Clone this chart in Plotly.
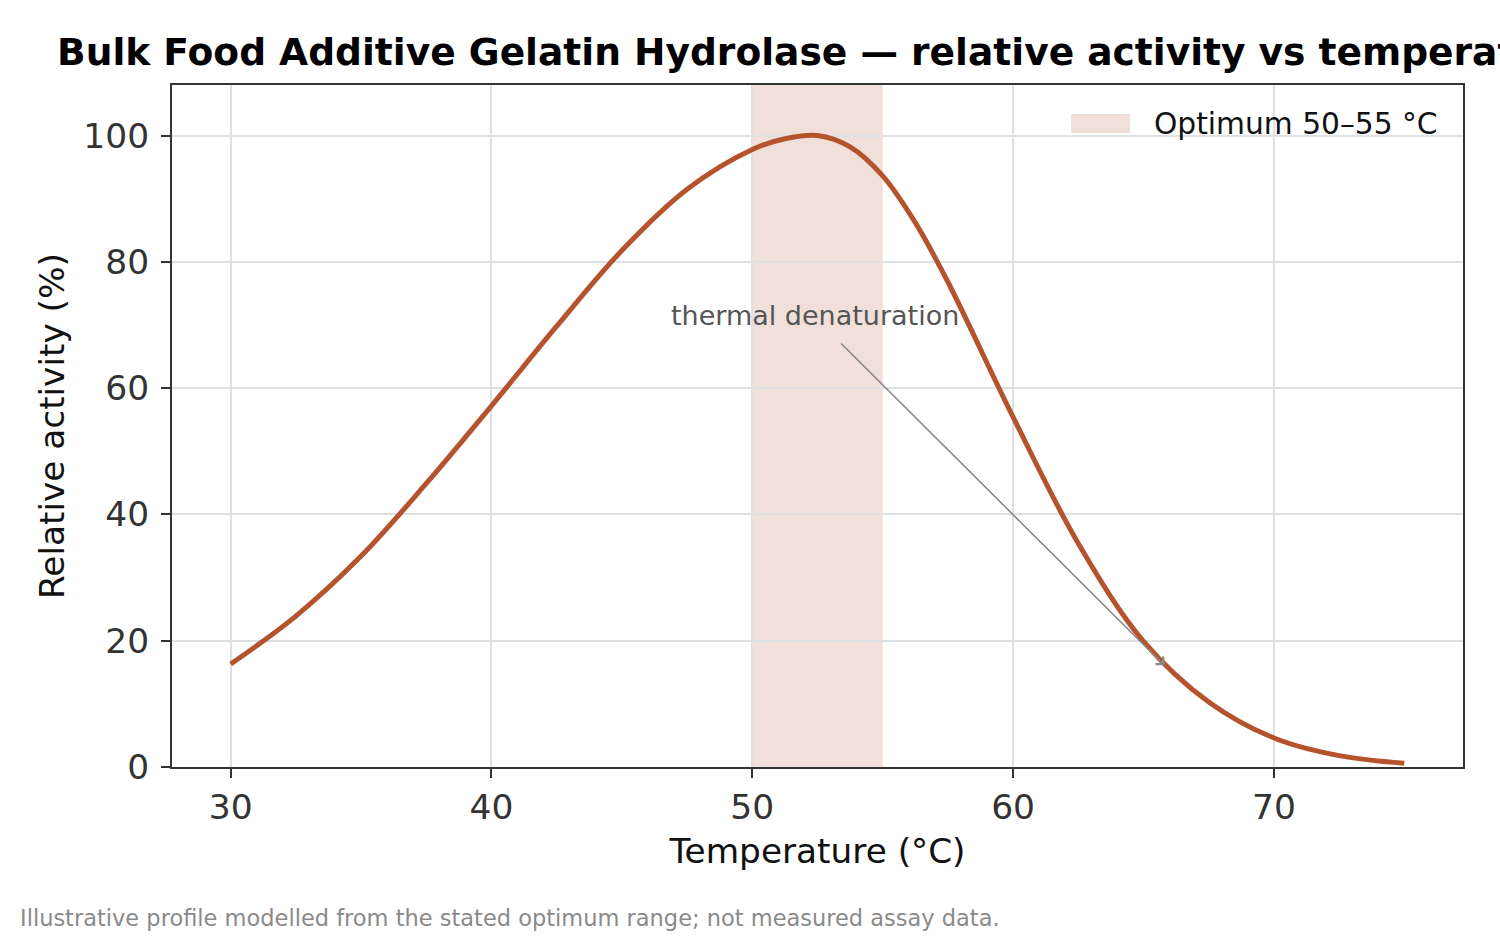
import plotly.graph_objects as go

# ---- data ----
temperature_c = [30, 32.5, 35, 37.5, 40, 42.5, 45, 47.5, 50, 51.25, 52.5, 53.75,
                 55, 56.25, 57.5, 60, 62.5, 65, 67.5, 70, 72.5, 75]
relative_activity = [16.3, 23.9, 33.4, 44.9, 57.2, 69.8, 81.8, 91.5, 97.8, 99.5, 100.0, 98.2,
                     93.6, 86.2, 76.8, 55.4, 35.4, 19.9, 10.3, 4.6, 1.8, 0.6]
optimum_range = [50, 55]
optimum_label = "Optimum 50–55 °C"
x_ticks = [30, 40, 50, 60, 70]
y_ticks = [0, 20, 40, 60, 80, 100]
annot_text = "thermal denaturation"
annot_text_pos = [52.42, 71.5]
annot_tail = [53.35, 67.3]
annot_head = [65.8, 16.1]

title = "Bulk Food Additive Gelatin Hydrolase — relative activity vs temperature"
footnote = "Illustrative profile modelled from the stated optimum range; not measured assay data."

LINE = "#B4532C"
BAND = "rgba(180,83,44,0.18)"
FONT = "DejaVu Sans"

fig = go.Figure()
fig.add_trace(go.Scatter(
    x=temperature_c, y=relative_activity, mode="lines",
    line=dict(color=LINE, width=5, shape="spline", smoothing=1.0),
    showlegend=False, hoverinfo="x+y"))

# optimum band
fig.add_shape(type="rect", xref="x", yref="paper", x0=optimum_range[0], x1=optimum_range[1],
              y0=0, y1=1, fillcolor=BAND, line=dict(width=0), layer="between")

# legend (swatch + text) drawn in paper coords
fig.add_shape(type="rect", xref="paper", yref="paper", x0=0.6964, x1=0.7421,
              y0=0.9296, y1=0.9575, fillcolor=BAND, line=dict(width=0), layer="above")
fig.add_annotation(xref="paper", yref="paper", x=0.7590, y=0.9436, xanchor="left",
                   yanchor="middle", text=optimum_label, showarrow=False,
                   font=dict(family=FONT, size=29.7, color="#111"))

# annotation arrow
fig.add_annotation(x=annot_head[0], y=annot_head[1], ax=annot_tail[0], ay=annot_tail[1],
                   xref="x", yref="y", axref="x", ayref="y", text="", showarrow=True,
                   arrowhead=4, arrowsize=1.3, arrowwidth=1.6, arrowcolor="#888888")
fig.add_annotation(x=annot_text_pos[0], y=annot_text_pos[1], xref="x", yref="y",
                   text=annot_text, showarrow=False, xanchor="center", yanchor="middle",
                   font=dict(family=FONT, size=27, color="#555555"))

# footnote
fig.add_annotation(xref="paper", yref="paper", x=-0.1193, y=-0.2214, xanchor="left",
                   yanchor="middle", text=footnote, showarrow=False,
                   font=dict(family=FONT, size=22.5, color="#8a8a8a"))

axis_common = dict(showline=True, linecolor="#333333", linewidth=2, mirror=True,
                   ticks="outside", ticklen=9, tickwidth=2, tickcolor="#333333",
                   showgrid=True, gridcolor="#DEE1E4", gridwidth=1.5, zeroline=False,
                   tickfont=dict(family=FONT, size=34.5, color="#333333"))

fig.update_xaxes(range=[27.75, 77.25], tickvals=x_ticks, **axis_common,
                 title=dict(text="Temperature (°C)", standoff=13,
                            font=dict(family=FONT, size=34.3, color="#111")))
fig.update_yaxes(range=[0, 108], tickvals=y_ticks, ticklabelstandoff=5, **axis_common,
                 title=dict(text="Relative activity (%)", standoff=8,
                            font=dict(family=FONT, size=34.3, color="#111")))

fig.update_layout(
    width=1500, height=937,
    margin=dict(l=172, r=37, t=85, b=170, autoexpand=False),
    paper_bgcolor="white", plot_bgcolor="white",
    font=dict(family=FONT),
    title=dict(text="<b>" + title + "</b>", x=57/1500, xanchor="left", xref="container",
               y=1 - 52/937, yanchor="middle", yref="container",
               font=dict(family=FONT, size=37.6, color="#000")),
    showlegend=False,
)

fig.write_html("out.html")
